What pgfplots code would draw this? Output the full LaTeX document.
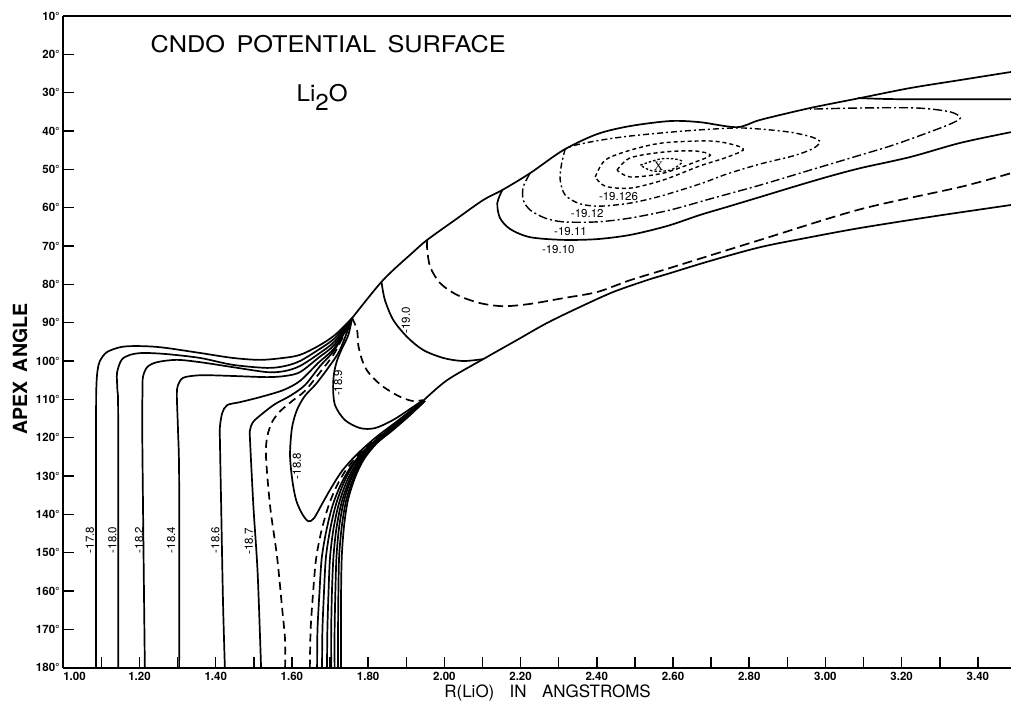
\documentclass[border=0pt]{standalone}
\usepackage{fontspec}
\setmainfont{TeX Gyre Heros}
\newfontfamily\serifX{Liberation Serif}
\usepackage{pgfplots}
\pgfplotsset{compat=1.18}
\usetikzlibrary{plotmarks}

\newcommand{\lbl}{\fontsize{11.5}{12}\selectfont}

\pgfplotsset{
  cont/.style={black, line width=1.7pt, smooth, tension=0.5, mark=none},
  contdash/.style={cont, dash pattern=on 8pt off 5pt},
  contdd/.style={cont, line width=1.4pt, dash pattern=on 9pt off 3pt on 2pt off 3pt},
  contdd2/.style={cont, line width=1.4pt, dash pattern=on 6pt off 3pt on 2pt off 3pt},
  contsd/.style={cont, line width=1.4pt, dash pattern=on 4pt off 3pt},
  contdot/.style={cont, line width=1.3pt, dash pattern=on 2.5pt off 2pt},
}

\begin{document}
\begin{tikzpicture}[x=1pt,y=1pt]
\useasboundingbox (-63.3,-40.3) rectangle (947.7,667.7);
\begin{axis}[
  at={(0,0)}, anchor=south west,
  scale only axis, width=947.7pt, height=651.7pt,
  xmin=1, xmax=3.487, ymin=10, ymax=180, y dir=reverse,
  axis y line*=left,
  axis line style={line width=2.2pt},
  tick align=inside,
  major tick length=11pt, minor tick length=11pt,
  every tick/.style={black, line width=1.5pt},
  xtick pos=left, ytick pos=left,
  xtick={1,1.2,1.4,1.6,1.8,2,2.2,2.4,2.6,2.8,3,3.2,3.4},
  xticklabels={\makebox[0pt][l]{1.00},1.20,1.40,1.60,1.80,2.00,2.20,2.40,2.60,2.80,3.00,3.20,3.40},
  minor xtick={1.1,1.3,1.5,1.7,1.9,2.1,2.3,2.5,2.7,2.9,3.1,3.3},
  ytick={10,20,30,40,50,60,70,80,90,100,110,120,130,140,150,160,170,180},
  yticklabels={10°,20°,30°,40°,50°,60°,70°,80°,90°,100°,110°,120°,130°,140°,150°,160°,170°,180°},
  ticklabel style={font=\bfseries\fontsize{11.5}{12}\selectfont},
  xticklabel style={yshift=-1pt},
  xlabel={R(LiO)\hspace{0.9em}IN\hspace{0.9em}ANGSTROMS},
  xlabel style={at={(axis description cs:0.511,-0.0395)}, anchor=center, font=\fontsize{17}{19}\selectfont},
  ylabel={APEX\hspace{0.5em}ANGLE},
  ylabel style={at={(axis description cs:-0.0457,0.458)}, anchor=center, font=\bfseries\fontsize{19.5}{22}\selectfont},
  clip=true,
]

% ---- left family of contours, running into the upper pinch point
\addplot[cont] coordinates {(1.086,180) (1.086,115.4) (1.087,106.3) (1.090,102.4) (1.096,100.0) (1.114,97.7) (1.149,96.4) (1.183,96.1) (1.228,96.2) (1.271,96.6) (1.359,97.9) (1.445,99.2) (1.516,99.7) (1.577,99.2) (1.621,98.4) (1.669,96.1) (1.713,93.2) (1.758,88.8)};
\addplot[cont] coordinates {(1.144,180) (1.144,115.4) (1.142,107.6) (1.141,103.1) (1.153,99.7) (1.175,98.4) (1.209,97.9) (1.272,98.2) (1.359,99.2) (1.445,101.0) (1.535,101.8) (1.582,101.3) (1.621,100.0) (1.669,97.1) (1.713,94.0) (1.758,88.8)};
\addplot[cont] coordinates {(1.214,180) (1.209,136.3) (1.207,115.4) (1.208,107.6) (1.209,104.2) (1.220,101.6) (1.246,100.3) (1.298,99.7) (1.359,100.3) (1.445,101.6) (1.535,102.9) (1.582,102.6) (1.621,101.3) (1.669,98.2) (1.713,94.8) (1.758,88.8)};
\addplot[cont] coordinates {(1.304,180) (1.304,131.1) (1.301,118.0) (1.298,108.9) (1.301,106.3) (1.314,104.4) (1.346,103.8) (1.377,103.7) (1.445,103.9) (1.535,104.2) (1.582,103.9) (1.621,102.9) (1.669,99.2) (1.713,95.6) (1.758,88.8)};
\addplot[cont] coordinates {(1.424,180) (1.419,162.4) (1.414,136.3) (1.411,120.6) (1.411,117.2) (1.417,113.6) (1.430,111.5) (1.465,110.7) (1.517,109.4) (1.577,107.6) (1.621,105.2) (1.669,100.5) (1.713,96.4) (1.758,88.8)};
\addplot[cont] coordinates {(1.519,180) (1.510,155.3) (1.499,138.1) (1.490,120.6) (1.490,118.0) (1.498,115.9) (1.524,113.6) (1.556,111.2) (1.595,109.1) (1.634,106.3) (1.674,101.3) (1.713,96.9) (1.758,88.8)};
\addplot[contdash] coordinates {(1.582,180) (1.582,172.8) (1.574,164.2) (1.561,151.1) (1.543,138.1) (1.532,125.1) (1.535,119.8) (1.548,115.9) (1.569,113.1) (1.601,110.4) (1.634,107.8) (1.674,102.9) (1.713,97.7) (1.758,88.8)};

% ---- -18.8 loop
\addplot[cont] coordinates {(1.758,88.8) (1.726,97.1) (1.695,101.8) (1.663,106.0) (1.634,109.1) (1.613,112.8) (1.600,117.5) (1.595,124.5) (1.601,131.1) (1.611,136.3) (1.627,139.9) (1.643,141.8) (1.658,141.0) (1.679,137.3) (1.703,133.1) (1.732,128.6) (1.769,124.5) (1.818,120.1) (1.876,115.7) (1.944,110.4)};

% ---- -18.9 and the dashed level beyond it
\addplot[cont] coordinates {(1.758,88.8) (1.748,93.2) (1.732,96.6) (1.719,99.7) (1.711,102.9) (1.708,106.8) (1.713,111.5) (1.739,115.4) (1.779,117.5) (1.818,117.5) (1.865,115.4) (1.913,112.3) (1.944,110.2)};
\addplot[contdash] coordinates {(1.758,88.8) (1.771,91.9) (1.774,95.8) (1.784,99.7) (1.800,102.9) (1.834,106.3) (1.879,109.1) (1.915,110.4) (1.944,110.2)};

% ---- lower bundle rising into the lower boundary
\addplot[contdash] coordinates {(1.647,180) (1.649,170.2) (1.655,161.1) (1.663,151.9) (1.676,144.9) (1.694,138.4) (1.715,133.1) (1.742,128.4) (1.779,124.0) (1.826,119.8) (1.884,115.4) (1.944,110.4)};
\addplot[cont] coordinates {(1.666,180) (1.667,170.2) (1.672,160.8) (1.678,151.6) (1.690,144.4) (1.706,137.9) (1.727,132.5) (1.753,127.8) (1.789,123.4) (1.835,119.4) (1.890,115.1) (1.945,110.4)};
\addplot[cont] coordinates {(1.679,180) (1.680,170.2) (1.684,160.6) (1.689,151.4) (1.700,144.1) (1.715,137.6) (1.735,132.0) (1.760,127.3) (1.796,123.0) (1.841,119.1) (1.894,114.9) (1.946,110.4)};
\addplot[cont] coordinates {(1.692,180) (1.693,170.2) (1.696,160.3) (1.700,151.2) (1.709,143.8) (1.723,137.3) (1.743,131.6) (1.768,126.9) (1.803,122.6) (1.847,118.8) (1.898,114.7) (1.947,110.4)};
\addplot[cont] coordinates {(1.703,180) (1.703,170.2) (1.705,160.2) (1.709,151.0) (1.717,143.5) (1.730,137.0) (1.750,131.2) (1.774,126.5) (1.809,122.2) (1.852,118.6) (1.902,114.5) (1.947,110.4)};
\addplot[cont] coordinates {(1.712,180) (1.712,170.2) (1.714,160.0) (1.717,150.9) (1.724,143.2) (1.736,136.7) (1.755,130.9) (1.779,126.2) (1.814,121.9) (1.857,118.4) (1.905,114.4) (1.948,110.4)};
\addplot[cont] coordinates {(1.721,180) (1.721,170.2) (1.722,159.8) (1.724,150.7) (1.731,143.0) (1.742,136.5) (1.761,130.6) (1.784,125.9) (1.819,121.7) (1.861,118.2) (1.908,114.2) (1.949,110.4)};
\addplot[cont] coordinates {(1.729,180) (1.729,170.2) (1.729,159.7) (1.731,150.6) (1.737,142.8) (1.747,136.3) (1.766,130.3) (1.789,125.6) (1.823,121.4) (1.865,118.0) (1.910,114.1) (1.949,110.4)};

% ---- lower boundary of the valley
\addplot[cont] coordinates {(1.944,110.4) (2.007,105.0) (2.102,99.5) (2.191,94.5) (2.269,90.1) (2.356,85.9) (2.443,82.0) (2.532,78.9) (2.585,77.3) (2.697,73.9) (2.829,70.3) (2.960,67.7) (3.091,65.3) (3.288,62.2) (3.487,59.3)};

% ---- upper boundary of the valley
\addplot[cont] coordinates {(1.758,88.8) (1.839,78.9) (1.918,71.6) (1.955,68.4) (2.028,63.2) (2.102,58.0) (2.152,55.4) (2.225,51.0) (2.312,45.0) (2.401,40.8) (2.488,38.7) (2.593,37.4) (2.671,37.7) (2.768,39.0) (2.829,37.1) (2.960,34.0) (3.091,31.4) (3.222,28.8) (3.354,26.7) (3.487,24.6)};
\addplot[cont] coordinates {(3.086,31.4) (3.196,31.7) (3.487,31.7)};

% ---- -19.0 and the dashed level
\addplot[cont] coordinates {(1.835,79.4) (1.844,84.1) (1.866,89.3) (1.902,93.7) (1.944,97.1) (1.997,99.2) (2.049,100.0) (2.102,99.5)};
\addplot[contdash, dash pattern=on 10pt off 5pt] coordinates {(1.955,68.4) (1.955,71.0) (1.963,75.5) (1.989,79.7) (2.034,82.8) (2.094,84.9) (2.155,85.7) (2.225,85.1) (2.312,83.6) (2.401,82.0) (2.488,78.9) (2.593,75.7) (2.829,68.4) (3.092,60.4) (3.354,54.6) (3.487,51.0)};

% ---- -19.10
\addplot[cont] coordinates {(2.152,55.4) (2.139,58.8) (2.146,62.7) (2.173,65.6) (2.225,67.7) (2.312,68.4) (2.401,68.2) (2.488,67.1) (2.584,64.8) (2.671,61.9) (2.742,59.8) (2.829,57.2) (2.915,54.6) (3.004,52.0) (3.091,49.7) (3.222,46.8) (3.354,43.1) (3.487,40.3)};
% ---- -19.11
\addplot[contdd] coordinates {(2.225,51.0) (2.207,54.6) (2.207,58.0) (2.225,60.6) (2.264,62.7) (2.312,63.7) (2.401,63.7) (2.488,62.7) (2.593,60.6) (2.698,57.7) (2.829,54.1) (2.960,50.2) (3.091,46.3) (3.177,43.7) (3.267,40.5) (3.327,38.2) (3.354,36.6) (3.327,35.0) (3.240,34.0) (3.091,34.0) (2.960,34.3)};
% ---- -19.12
\addplot[contdd2] coordinates {(2.317,44.7) (2.307,48.9) (2.304,52.8) (2.317,56.7) (2.356,59.0) (2.409,59.6) (2.488,58.8) (2.567,57.0) (2.671,53.8) (2.742,51.2) (2.829,48.6) (2.915,46.5) (2.965,44.7) (2.986,42.9) (2.965,41.6) (2.907,40.3) (2.829,39.5) (2.768,39.2) (2.671,39.7) (2.593,40.3) (2.488,41.3) (2.409,42.4) (2.343,43.7) (2.317,44.7)};
% ---- -19.126
\addplot[contsd] coordinates {(2.396,52.0) (2.422,47.6) (2.488,45.0) (2.574,43.1) (2.698,42.6) (2.763,43.7) (2.784,45.0) (2.737,47.0) (2.671,49.1) (2.574,52.8) (2.488,54.9) (2.422,54.4) (2.396,52.0)};
% ---- inner levels
\addplot[contsd] coordinates {(2.453,50.2) (2.488,47.0) (2.574,45.5) (2.658,45.2) (2.698,46.3) (2.658,48.1) (2.574,51.0) (2.488,52.0) (2.453,50.2)};
\addplot[contdot] coordinates {(2.514,48.9) (2.566,47.3) (2.605,47.3) (2.624,48.1) (2.593,50.2) (2.545,50.4) (2.514,48.9)};

% ---- minimum
\addplot[only marks, mark=text, text mark={\fontsize{13}{13}\selectfont\serifX X}] coordinates {(2.562,49.1)};

% ---- contour labels
\node[rotate=90, font=\lbl] at (axis cs:1.070,146.7) {-17.8};
\node[rotate=90, font=\lbl] at (axis cs:1.129,146.7) {-18.0};
\node[rotate=90, font=\lbl] at (axis cs:1.199,146.7) {-18.2};
\node[rotate=90, font=\lbl] at (axis cs:1.283,146.7) {-18.4};
\node[rotate=90, font=\lbl] at (axis cs:1.399,146.7) {-18.6};
\node[rotate=90, font=\lbl] at (axis cs:1.487,147.1) {-18.7};
\node[rotate=90, font=\lbl] at (axis cs:1.613,127.4) {-18.8};
\node[rotate=90, font=\lbl] at (axis cs:1.721,105.7) {-18.9};
\node[rotate=90, font=\lbl] at (axis cs:1.899,89.4) {-19.0};
\node[font=\lbl] at (axis cs:2.299,70.9) {-19.10};
\node[font=\lbl] at (axis cs:2.331,66.1) {-19.11};
\node[font=\lbl] at (axis cs:2.375,61.4) {-19.12};
\node[font=\lbl] at (axis cs:2.457,57.0) {-19.126};

% ---- titles
\node[anchor=base west, font=\fontsize{23}{26}\selectfont] at (axis cs:1.22,19.65) {\scalebox{1.1}[1]{CNDO\hspace{0.45em}POTENTIAL\hspace{0.45em}SURFACE}};
\node[anchor=base west, font=\fontsize{23}{26}\selectfont] at (axis cs:1.603,32.4) {\scalebox{1.05}[1]{Li\raisebox{-9pt}{2}O}};
\end{axis}
\end{tikzpicture}
\end{document}
